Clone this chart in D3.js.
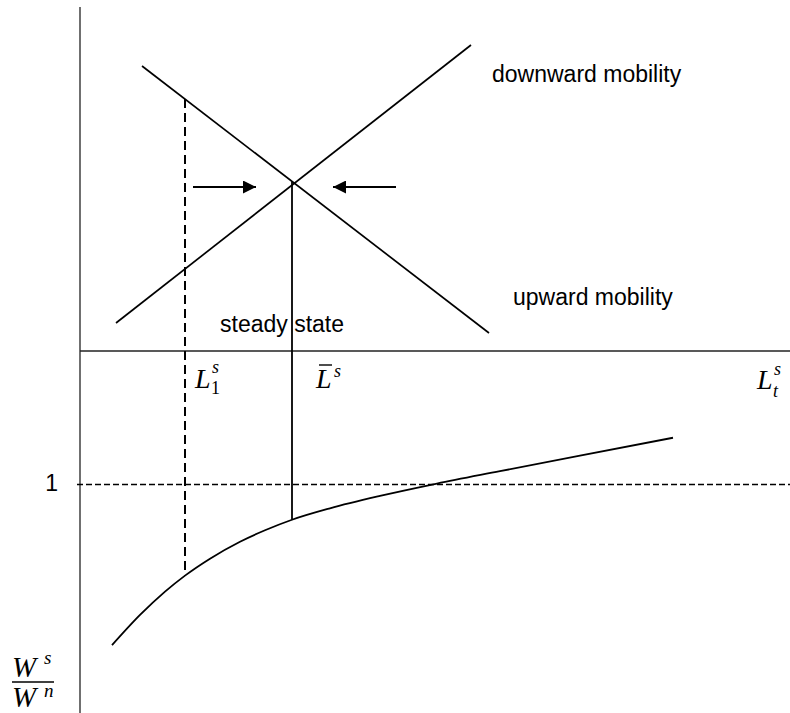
<!DOCTYPE html>
<html>
<head>
<meta charset="utf-8">
<script src="https://cdn.jsdelivr.net/npm/d3@7"></script>
<style>
  html, body { margin: 0; padding: 0; background: #fff; }
  svg { display: block; }
</style>
</head>
<body>
<svg id="chart" width="790" height="713"></svg>
<script>
// ---- data (abstract chart units) ----
const risingX = [3.6, 39.1];     // "downward mobility" schedule
const risingY = [2.8, 30.6];
const fallingX = [6.2, 40.9];    // "upward mobility" schedule
const fallingY = [28.5, 1.8];
const curveX = [3.2, 6.0, 8.5, 10.5, 13.0, 16.0, 18.5, 21.2, 25.0, 30.0, 35.7, 42.0, 50.0, 59.3];
const curveY = [0.648, 0.714, 0.765, 0.800, 0.837, 0.874, 0.899, 0.922, 0.947, 0.974, 1.001, 1.028, 1.062, 1.101];
const L1 = 10.5;
const steadyX = 21.2;
const arrowLevel = 16.4;
const leftArrowX = [11.3, 17.6];
const rightArrowX = [31.6, 25.3];
const unitRatio = 1;
const tickLabels = ["1"];

// ---- scales ----
const x = d3.scaleLinear().domain([0, 71]).range([80, 790]);
const yTop = d3.scaleLinear().domain([0, 35.1]).range([351, 0]);
const yLow = d3.scaleLinear().domain([0.5, 1]).range([713, 484]);

const svg = d3.select("#chart");
const sans = "'Liberation Sans', Arial, sans-serif";
const serif = "'Liberation Serif', 'Times New Roman', serif";

function lineAt(xs, ys, xv) {
  const t = (xv - xs[0]) / (xs[1] - xs[0]);
  return ys[0] + t * (ys[1] - ys[0]);
}

// axes
svg.append("line").attr("x1", x(0)).attr("x2", x(0)).attr("y1", 7).attr("y2", 713)
  .attr("stroke", "#222").attr("stroke-width", 1.3);
svg.append("line").attr("x1", x(0)).attr("x2", 790).attr("y1", yTop(0)).attr("y2", yTop(0))
  .attr("stroke", "#222").attr("stroke-width", 1.3);

// dashed reference at ratio 1
svg.append("line").attr("x1", x(0) - 3).attr("x2", 790)
  .attr("y1", yLow(unitRatio) + 0.5).attr("y2", yLow(unitRatio) + 0.5)
  .attr("stroke", "#000").attr("stroke-width", 1.3).attr("stroke-dasharray", "6,3");
svg.append("text").attr("x", 58).attr("y", yLow(unitRatio) + 7).attr("text-anchor", "end")
  .attr("font-family", sans).attr("font-size", 23).text(tickLabels[0]);

// schedules
const lineGen = d3.line().x(d => x(d[0])).y(d => yTop(d[1]));
svg.append("path").datum(d3.zip(risingX, risingY)).attr("d", lineGen)
  .attr("fill", "none").attr("stroke", "#000").attr("stroke-width", 1.7);
svg.append("path").datum(d3.zip(fallingX, fallingY)).attr("d", lineGen)
  .attr("fill", "none").attr("stroke", "#000").attr("stroke-width", 1.7);

// wage curve
const curveGen = d3.line().x(d => x(d[0])).y(d => yLow(d[1])).curve(d3.curveMonotoneX);
svg.append("path").datum(d3.zip(curveX, curveY)).attr("d", curveGen)
  .attr("fill", "none").attr("stroke", "#000").attr("stroke-width", 1.8);

function curveAt(xv) {
  const i = curveX.indexOf(xv);
  return curveY[i];
}

// dashed vertical at L1
svg.append("line").attr("x1", x(L1)).attr("x2", x(L1))
  .attr("y1", yTop(lineAt(fallingX, fallingY, L1))).attr("y2", yLow(curveAt(L1)))
  .attr("stroke", "#000").attr("stroke-width", 2).attr("stroke-dasharray", "9,5");

// solid vertical at steady state
svg.append("line").attr("x1", x(steadyX)).attr("x2", x(steadyX))
  .attr("y1", yTop(lineAt(fallingX, fallingY, steadyX))).attr("y2", yLow(curveAt(steadyX)))
  .attr("stroke", "#000").attr("stroke-width", 1.8);

// arrows
const defs = svg.append("defs");
defs.append("marker").attr("id", "ah").attr("viewBox", "0 0 13 13")
  .attr("refX", 13).attr("refY", 6.5).attr("markerWidth", 13).attr("markerHeight", 13)
  .attr("markerUnits", "userSpaceOnUse").attr("orient", "auto")
  .append("path").attr("d", "M0,0 L13,6.5 L0,13 Z").attr("fill", "#000");
[leftArrowX, rightArrowX].forEach(ax => {
  svg.append("line").attr("x1", x(ax[0])).attr("x2", x(ax[1]))
    .attr("y1", yTop(arrowLevel)).attr("y2", yTop(arrowLevel))
    .attr("stroke", "#000").attr("stroke-width", 1.8).attr("marker-end", "url(#ah)");
});

// text labels
function txt(xp, yp, s, opts = {}) {
  return svg.append("text").attr("x", xp).attr("y", yp)
    .attr("font-family", opts.family || sans)
    .attr("font-size", opts.size || 23)
    .attr("font-style", opts.italic ? "italic" : "normal")
    .attr("fill", "#000").text(s);
}
txt(492, 82, "downward mobility");
txt(513, 305, "upward mobility");
txt(220, 332, "steady state");

// L_1^s
txt(195, 388, "L", { family: serif, size: 28, italic: true });
txt(211, 394, "1", { family: serif, size: 18 });
txt(212, 373, "s", { family: serif, size: 18, italic: true });

// L-bar ^s
txt(316, 388, "L", { family: serif, size: 28, italic: true });
svg.append("line").attr("x1", 319).attr("x2", 332).attr("y1", 365).attr("y2", 365)
  .attr("stroke", "#000").attr("stroke-width", 1.4);
txt(334, 377, "s", { family: serif, size: 18, italic: true });

// L_t^s
txt(757, 389, "L", { family: serif, size: 28, italic: true });
txt(773, 397, "t", { family: serif, size: 18, italic: true });
txt(774, 375, "s", { family: serif, size: 18, italic: true });

// W^s / W^n
txt(12, 677, "W", { family: serif, size: 29, italic: true });
txt(44, 664, "s", { family: serif, size: 19, italic: true });
svg.append("line").attr("x1", 12).attr("x2", 54).attr("y1", 682).attr("y2", 682)
  .attr("stroke", "#000").attr("stroke-width", 1.4);
txt(12, 707, "W", { family: serif, size: 29, italic: true });
txt(44, 697, "n", { family: serif, size: 19, italic: true });
</script>
</body>
</html>
